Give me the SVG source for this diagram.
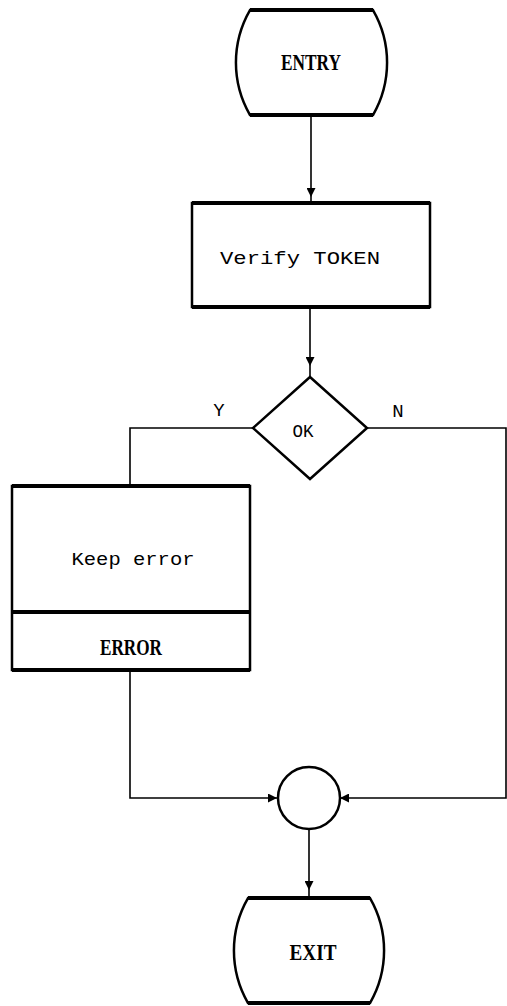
<svg xmlns="http://www.w3.org/2000/svg" width="507" height="1006" viewBox="0 0 507 1006">
<defs>
<style>
.shape{fill:#fff;stroke:#000;stroke-width:2.5}
.edge{stroke:#000;stroke-width:4}
.con{fill:none;stroke:#000;stroke-width:1.6}
.mono{font-family:"Liberation Mono","DejaVu Sans Mono",monospace;font-size:19px;fill:#000}
.serif{font-family:"Liberation Serif","DejaVu Serif",serif;font-weight:bold;font-size:24px;fill:#000}
</style>
<marker id="ah" viewBox="0 0 10 10" refX="10" refY="5" markerWidth="9" markerHeight="9" markerUnits="userSpaceOnUse" orient="auto">
<path d="M0,0 L10,5 L0,10 Z" fill="#000"/>
</marker>
</defs>
<rect width="507" height="1006" fill="#fff"/>
<g id="connectors">
<path class="con" d="M311,115 V197" marker-end="url(#ah)"/>
<path class="con" d="M311,197 V203"/>
<path class="con" d="M310,307 V366" marker-end="url(#ah)"/>
<path class="con" d="M310,366 V377"/>
<path class="con" d="M253,428 H130 V486"/>
<path class="con" d="M367,428 H506 V798 H340" marker-end="url(#ah)"/>
<path class="con" d="M130,670 V798 H277" marker-end="url(#ah)"/>
<path class="con" d="M309,829 V890" marker-end="url(#ah)"/>
<path class="con" d="M309,890 V898"/>
<text class="mono" x="219" y="416" text-anchor="middle">Y</text>
<text class="mono" x="398" y="417" text-anchor="middle">N</text>
</g>
<g id="entry">
<path class="shape" d="M250,10 H373 A105,105 0 0 1 373,115 H250 A105,105 0 0 1 250,10 Z"/>
<path class="edge" d="M250,10 H373 M250,115 H373"/>
<text class="serif" x="311" y="70" text-anchor="middle" textLength="60" lengthAdjust="spacingAndGlyphs">ENTRY</text>
</g>
<g id="verify">
<rect class="shape" x="192" y="203" width="238" height="104"/>
<path class="edge" d="M192,203 H430 M192,307 H430"/>
<text class="mono" x="300" y="264" text-anchor="middle" textLength="160" lengthAdjust="spacingAndGlyphs">Verify TOKEN</text>
</g>
<g id="decision">
<path class="shape" d="M310,377 L367,428 L310,479 L253,428 Z"/>
<text class="mono" x="303" y="437" text-anchor="middle" textLength="21" lengthAdjust="spacingAndGlyphs">OK</text>
</g>
<g id="keep-error">
<rect class="shape" x="12" y="486" width="238" height="184"/>
<path class="edge" d="M12,486 H250 M12,612 H250 M12,670 H250"/>
<text class="mono" x="133" y="565" text-anchor="middle" textLength="123" lengthAdjust="spacingAndGlyphs">Keep error</text>
<text class="serif" x="131" y="655" text-anchor="middle" textLength="62" lengthAdjust="spacingAndGlyphs">ERROR</text>
</g>
<g id="join">
<circle class="shape" cx="309" cy="798" r="31"/>
</g>
<g id="exit">
<path class="shape" d="M248,898 H370 A105,105 0 0 1 370,1003 H248 A105,105 0 0 1 248,898 Z"/>
<path class="edge" d="M248,898 H370 M248,1003 H370"/>
<text class="serif" x="313" y="960" text-anchor="middle" textLength="47" lengthAdjust="spacingAndGlyphs">EXIT</text>
</g>
</svg>
